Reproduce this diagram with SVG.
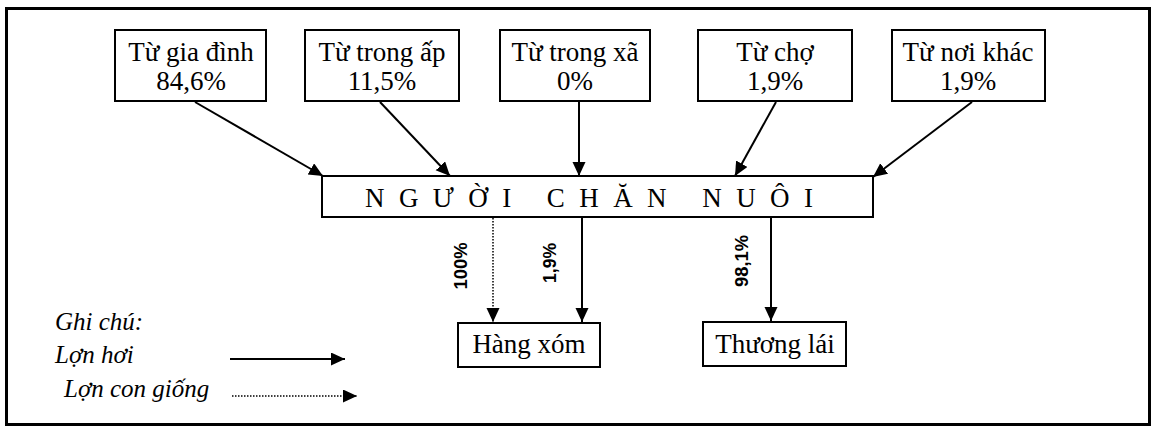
<svg xmlns="http://www.w3.org/2000/svg" width="1156" height="429" viewBox="0 0 1156 429">
<style>
.box{fill:#fff;stroke:#000;stroke-width:2}
.t{font-family:"Liberation Serif","Times New Roman",serif;font-size:27px;fill:#000;text-anchor:middle}
.lg{font-family:"Liberation Serif","Times New Roman",serif;font-size:25px;font-style:italic;fill:#000}
.pc{font-family:"Liberation Sans",Arial,sans-serif;font-size:19px;font-weight:bold;fill:#000;text-anchor:middle}
.s{stroke:#000;stroke-width:2;fill:none;marker-end:url(#ah)}
.d{stroke:#000;stroke-width:1.5;stroke-dasharray:1.5 1.5;fill:none;marker-end:url(#ah)}
</style>
<defs>
<marker id="ah" markerUnits="userSpaceOnUse" markerWidth="16" markerHeight="14" refX="14" refY="6.5" orient="auto">
<path d="M0,0 L14,6.5 L0,13 Z" fill="#000"/>
</marker>
</defs>
<rect x="0" y="0" width="1156" height="429" fill="#fff"/>
<rect x="6.5" y="8.5" width="1143" height="416" fill="none" stroke="#000" stroke-width="3"/>

<g id="connectors">
<line class="s" x1="195" y1="102" x2="323" y2="176"/>
<line class="s" x1="380" y1="102" x2="450" y2="176"/>
<line class="s" x1="579" y1="102" x2="579" y2="176"/>
<line class="s" x1="776" y1="102" x2="735" y2="176"/>
<line class="s" x1="972" y1="102" x2="873" y2="177"/>
<line class="d" x1="493" y1="218" x2="493" y2="322"/>
<line class="s" x1="582" y1="218" x2="582" y2="322"/>
<line class="s" x1="771" y1="218" x2="771" y2="321"/>
<text class="pc" transform="translate(467,266) rotate(-90)" textLength="47" lengthAdjust="spacingAndGlyphs">100%</text>
<text class="pc" transform="translate(556,263) rotate(-90)" textLength="40" lengthAdjust="spacingAndGlyphs">1,9%</text>
<text class="pc" transform="translate(748,261) rotate(-90)" textLength="52" lengthAdjust="spacingAndGlyphs">98,1%</text>
</g>

<g id="n-gia-dinh">
<rect class="box" x="115" y="30" width="151" height="71"/>
<text class="t" x="191" y="61">Từ gia đình</text>
<text class="t" x="191" y="90">84,6%</text>
</g>
<g id="n-trong-ap">
<rect class="box" x="305" y="30" width="154" height="71"/>
<text class="t" x="382" y="61">Từ trong ấp</text>
<text class="t" x="382" y="90">11,5%</text>
</g>
<g id="n-trong-xa">
<rect class="box" x="500" y="30" width="150" height="71"/>
<text class="t" x="575" y="61">Từ trong xã</text>
<text class="t" x="575" y="90">0%</text>
</g>
<g id="n-cho">
<rect class="box" x="698" y="30" width="154" height="71"/>
<text class="t" x="775" y="61">Từ chợ</text>
<text class="t" x="775" y="90">1,9%</text>
</g>
<g id="n-noi-khac">
<rect class="box" x="892" y="30" width="153" height="71"/>
<text class="t" x="968" y="61">Từ nơi khác</text>
<text class="t" x="968" y="90">1,9%</text>
</g>

<g id="n-nguoi-chan-nuoi">
<rect class="box" x="322" y="176" width="551" height="41"/>
<text class="t" x="365" y="207" style="text-anchor:start" textLength="448" lengthAdjust="spacing">NGƯỜI CHĂN NUÔI</text>
</g>

<g id="n-hang-xom">
<rect class="box" x="458" y="323" width="142" height="44"/>
<text class="t" x="529" y="353">Hàng xóm</text>
</g>
<g id="n-thuong-lai">
<rect class="box" x="703" y="322" width="143" height="44"/>
<text class="t" x="775" y="353">Thương lái</text>
</g>

<g id="legend">
<text class="lg" x="55" y="330">Ghi chú:</text>
<text class="lg" x="55" y="363">Lợn hơi</text>
<text class="lg" x="64" y="397">Lợn con giống</text>
<line class="s" x1="230" y1="359" x2="345" y2="359"/>
<line class="d" x1="232" y1="396" x2="357" y2="396"/>
</g>
</svg>
